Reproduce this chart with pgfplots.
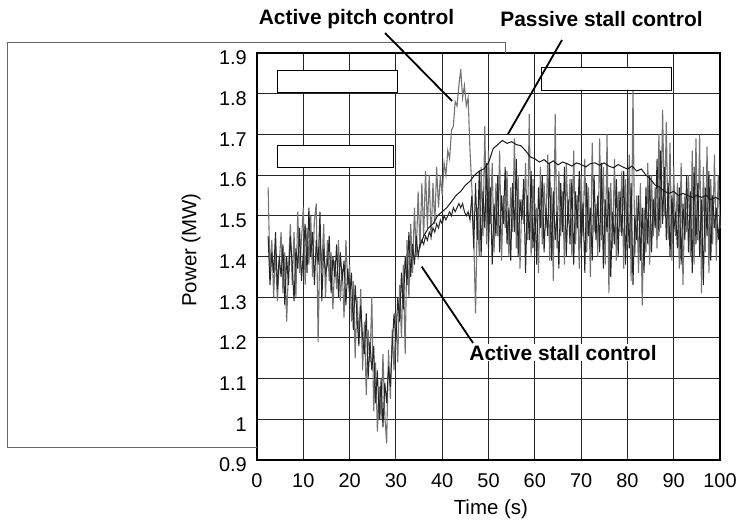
\documentclass[border=0pt]{standalone}
\usepackage{fontspec}
\setmainfont{Liberation Sans}
\usepackage{pgfplots}
\pgfplotsset{compat=1.18}
\usepackage{pgfplotstable}

% active pitch control, t = 2.4 ... 100 s, step 0.4 s
\pgfplotstableread[row sep=\\, header=false]{
1.57\\1.36\\1.44\\1.30\\1.42\\1.29\\1.38\\
1.46\\1.31\\1.41\\1.24\\1.37\\1.48\\1.33\\1.46\\1.30\\1.51\\1.36\\1.44\\
1.52\\1.33\\1.47\\1.38\\1.50\\1.35\\1.49\\1.53\\1.19\\1.45\\1.37\\1.48\\1.30\\
1.44\\1.34\\1.41\\1.27\\1.39\\1.32\\1.44\\1.29\\1.37\\1.25\\1.44\\1.33\\
1.38\\1.24\\1.34\\1.15\\1.30\\1.20\\1.32\\1.12\\1.24\\1.06\\1.22\\1.14\\1.30\\
1.02\\1.14\\0.97\\1.08\\1.00\\1.16\\1.01\\0.94\\1.17\\1.05\\1.22\\1.12\\
1.26\\1.14\\1.33\\1.20\\1.38\\1.16\\1.44\\1.30\\1.48\\1.36\\1.52\\1.40\\1.56\\
1.42\\1.58\\1.45\\1.61\\1.47\\1.60\\1.44\\1.58\\1.48\\1.62\\
1.52\\1.60\\1.55\\1.63\\1.60\\1.66\\1.64\\1.71\\1.72\\1.78\\
1.77\\1.82\\1.86\\1.79\\1.82\\1.77\\1.79\\1.66\\1.57\\1.45\\
1.26\\1.52\\1.40\\1.62\\1.45\\1.72\\1.43\\1.66\\
1.48\\1.63\\1.41\\1.58\\1.45\\1.66\\1.39\\1.55\\1.47\\1.61\\
1.40\\1.57\\1.46\\1.69\\1.42\\1.60\\1.37\\1.54\\1.48\\1.63\\
1.44\\1.75\\1.40\\1.59\\1.46\\1.52\\1.36\\1.62\\1.43\\1.58\\
1.47\\1.65\\1.39\\1.57\\1.34\\1.75\\1.42\\1.61\\1.45\\1.56\\
1.38\\1.63\\1.48\\1.59\\1.40\\1.66\\1.43\\1.55\\1.37\\1.60\\
1.45\\1.64\\1.41\\1.57\\1.35\\1.68\\1.46\\1.53\\1.40\\1.69\\
1.44\\1.62\\1.38\\1.70\\1.31\\1.58\\1.42\\1.64\\1.39\\1.56\\
1.46\\1.61\\1.37\\1.59\\1.43\\1.65\\1.34\\1.81\\1.40\\1.55\\
1.36\\1.58\\1.28\\1.52\\1.41\\1.63\\1.38\\1.60\\1.45\\1.57\\
1.42\\1.70\\1.47\\1.76\\1.50\\1.73\\1.44\\1.68\\1.39\\1.62\\
1.45\\1.58\\1.37\\1.63\\1.33\\1.55\\1.46\\1.60\\1.40\\1.66\\
1.38\\1.69\\1.44\\1.70\\1.31\\1.62\\1.41\\1.67\\1.36\\1.59\\
1.43\\1.65\\1.39\\1.60\\1.47\\
}\pitchdata

% active stall control, t = 2.4 ... 100 s, step 0.4 s
\pgfplotstableread[row sep=\\, header=false]{
1.45\\1.33\\1.41\\1.36\\1.46\\1.32\\1.40\\
1.35\\1.43\\1.28\\1.40\\1.33\\1.45\\1.38\\1.29\\1.42\\1.37\\1.47\\1.34\\
1.41\\1.48\\1.36\\1.52\\1.40\\1.46\\1.33\\1.44\\1.38\\1.51\\1.29\\1.42\\1.36\\
1.38\\1.45\\1.31\\1.40\\1.35\\1.43\\1.30\\1.41\\1.34\\1.39\\1.28\\1.37\\
1.30\\1.36\\1.22\\1.33\\1.25\\1.18\\1.28\\1.20\\1.16\\1.26\\1.10\\1.19\\1.12\\
1.18\\1.04\\1.12\\1.00\\1.10\\0.98\\1.09\\1.04\\1.13\\1.08\\1.18\\1.26\\
1.19\\1.30\\1.24\\1.36\\1.27\\1.40\\1.33\\1.46\\1.35\\1.43\\1.38\\1.45\\1.40\\
1.43\\1.44\\1.43\\1.45\\1.44\\1.46\\1.45\\1.47\\1.46\\1.48\\
1.47\\1.49\\1.48\\1.50\\1.49\\1.50\\1.51\\1.50\\1.52\\1.51\\
1.52\\1.53\\1.52\\1.53\\1.51\\1.50\\1.51\\1.49\\1.55\\1.42\\
1.58\\1.44\\1.61\\1.40\\1.56\\1.47\\1.63\\1.42\\1.57\\1.38\\
1.53\\1.45\\1.60\\1.41\\1.55\\1.48\\1.62\\1.43\\1.52\\1.39\\
1.58\\1.46\\1.64\\1.40\\1.54\\1.49\\1.59\\1.36\\1.55\\1.44\\
1.61\\1.42\\1.53\\1.38\\1.57\\1.47\\1.60\\1.41\\1.52\\1.45\\
1.63\\1.39\\1.56\\1.44\\1.51\\1.37\\1.58\\1.46\\1.62\\1.40\\
1.54\\1.43\\1.59\\1.38\\1.56\\1.47\\1.61\\1.42\\1.53\\1.36\\
1.58\\1.45\\1.52\\1.39\\1.60\\1.44\\1.55\\1.41\\1.63\\1.37\\
1.54\\1.46\\1.57\\1.35\\1.51\\1.43\\1.59\\1.40\\1.56\\1.45\\
1.61\\1.38\\1.53\\1.42\\1.58\\1.33\\1.50\\1.44\\1.55\\1.39\\
1.52\\1.36\\1.57\\1.43\\1.60\\1.41\\1.54\\1.47\\1.64\\1.45\\
1.66\\1.48\\1.62\\1.44\\1.58\\1.40\\1.55\\1.46\\1.51\\1.42\\
1.57\\1.38\\1.53\\1.44\\1.60\\1.41\\1.56\\1.36\\1.62\\1.43\\
1.58\\1.40\\1.54\\1.33\\1.57\\1.45\\1.61\\1.39\\1.55\\1.47\\
1.52\\1.44\\1.50\\
}\activestall

% passive stall control, t = 35 ... 100 s, step 1 s
\pgfplotstableread[row sep=\\, header=false]{
1.42\\1.45\\1.47\\1.48\\1.50\\1.51\\1.52\\1.535\\1.55\\1.56\\
1.575\\1.585\\1.60\\1.61\\1.615\\1.63\\1.665\\1.675\\1.685\\1.678\\
1.682\\1.675\\1.672\\1.66\\1.645\\1.64\\1.632\\1.638\\1.628\\1.635\\
1.625\\1.632\\1.628\\1.622\\1.630\\1.626\\1.62\\1.628\\1.63\\1.624\\
1.63\\1.622\\1.618\\1.626\\1.62\\1.615\\1.622\\1.61\\1.615\\1.60\\
1.59\\1.575\\1.57\\1.56\\1.555\\1.56\\1.55\\1.555\\1.55\\1.545\\
1.55\\1.545\\1.55\\1.54\\1.545\\1.54\\
}\passivestall

\begin{document}
\begin{tikzpicture}
\begin{axis}[
    width=463bp, height=407bp, scale only axis,
    xmin=0, xmax=100, ymin=0.9, ymax=1.9,
    xtick={0,10,...,100},
    ytick={0.9,1.0,1.1,1.2,1.3,1.4,1.5,1.6,1.7,1.8,1.9},
    grid=major,
    major grid style={black!85, line width=0.9bp},
    axis line style={line width=1.8bp},
    major tick length=0pt,
    /pgf/number format/assume math mode=true,
    tick label style={font=\fontsize{20}{24}\selectfont, inner sep=0pt},
    xticklabel style={yshift=-13bp},
    yticklabel style={xshift=-10bp, yshift=-5bp},
    label style={font=\fontsize{20.5}{24}\selectfont},
    xlabel={Time (s)},
    ylabel={Power (MW)},
    xlabel style={at={(rel axis cs:0.505,-0.120)}, anchor=center},
    ylabel style={at={(rel axis cs:-0.1425,0.516)}, anchor=center, rotate=0},
    clip=false,
]
% full picture area
\path (axis cs:-55.51,0.7452) rectangle (axis cs:105.18,2.0302);
% remains of the surrounding frame
\draw[black!60, line width=0.8bp]
    (axis cs:0,0.932) -- (axis cs:-54.0,0.932) -- (axis cs:-54.0,1.927)
    -- (axis cs:53.56,1.927) -- (axis cs:53.56,1.9);

\addplot[black!55, line width=1.1bp] table[x expr=2.4+\coordindex*0.4, y index=0] {\pitchdata};
\addplot[black!85, line width=1.0bp] table[x expr=2.4+\coordindex*0.4, y index=0] {\activestall};
\addplot[black!90, line width=1.0bp] table[x expr=35+\coordindex, y index=0] {\passivestall};

% blank boxes
\draw[fill=white, line width=0.9bp] (axis cs:4.38,1.8025) rectangle (axis cs:30.3,1.8565);
\draw[fill=white, line width=0.9bp] (axis cs:4.38,1.619) rectangle (axis cs:29.5,1.672);
\draw[fill=white, line width=0.9bp] (axis cs:61.5,1.809) rectangle (axis cs:89.6,1.864);

% leader lines
\draw[line width=1.8bp] (axis cs:27.65,1.949) -- (axis cs:42.12,1.782);
\draw[line width=1.8bp] (axis cs:65.87,1.932) -- (axis cs:54.21,1.701);
\draw[line width=1.8bp] (axis cs:35.57,1.375) -- (axis cs:46.65,1.1875);

\node[font=\fontsize{21}{25}\selectfont\bfseries] at (axis cs:21.49,1.9835) {Active pitch control};
\node[font=\fontsize{21}{25}\selectfont\bfseries] at (axis cs:74.41,1.9835) {Passive stall control};
\node[font=\fontsize{21}{25}\selectfont\bfseries, fill=white, inner sep=1bp] at (axis cs:66.09,1.164) {Active stall control};
\end{axis}
\end{tikzpicture}
\end{document}
